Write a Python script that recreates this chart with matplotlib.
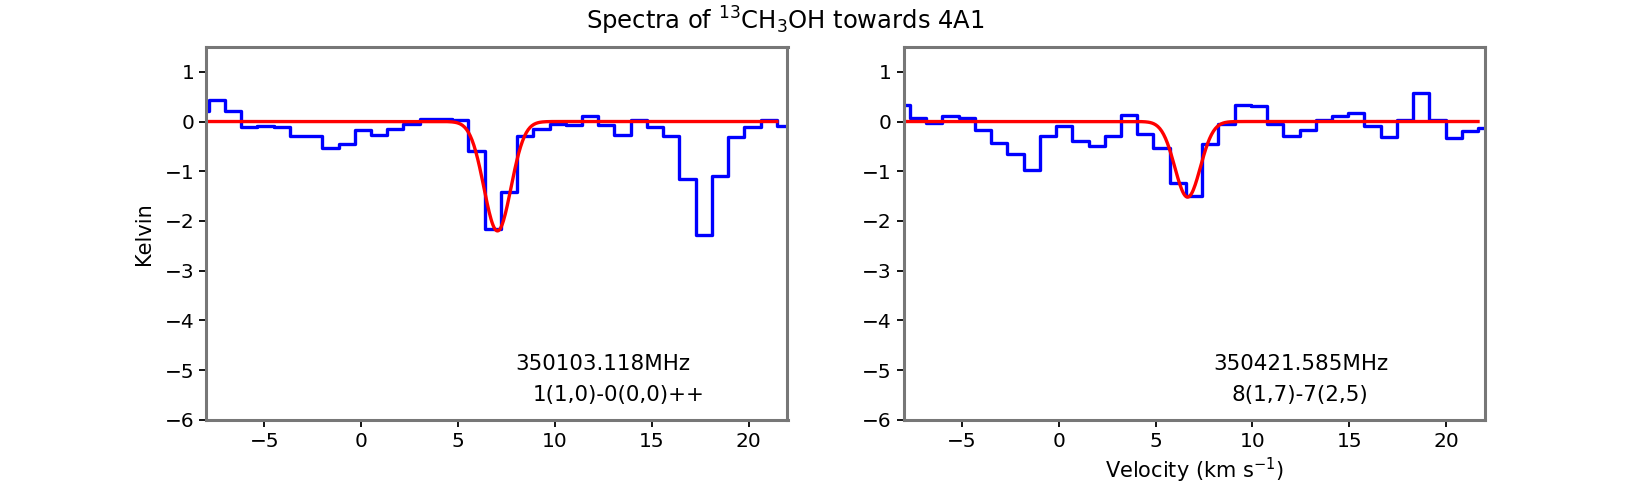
'''
13CH3OH spectra towards 4A1: observed channels with Gaussian fits.
'''
import matplotlib
matplotlib.use("Agg")
import matplotlib.pyplot as plt
import numpy as np

# Channel centre velocities (km/s) and brightness (K), left panel
velocity_left = [-8.29, -7.45, -6.61, -5.78, -4.94, -4.10, -3.26, -2.43, -1.59, -0.75,
                 0.09, 0.92, 1.76, 2.60, 3.44, 4.27, 5.11, 5.95, 6.79, 7.62,
                 8.46, 9.30, 10.14, 10.97, 11.81, 12.65, 13.49, 14.32, 15.16, 16.00,
                 16.84, 17.68, 18.51, 19.35, 20.19, 21.03, 21.86]
kelvin_left = [0.22, 0.43, 0.21, -0.12, -0.09, -0.12, -0.29, -0.29, -0.54, -0.46,
               -0.17, -0.27, -0.15, -0.05, 0.05, 0.05, 0.03, -0.59, -2.17, -1.42,
               -0.29, -0.15, -0.04, -0.06, 0.11, -0.07, -0.27, 0.03, -0.12, -0.29,
               -1.15, -2.29, -1.10, -0.31, -0.12, 0.03, -0.10]

# Channel centre velocities (km/s) and brightness (K), right panel
velocity_right = [-8.09, -7.25, -6.42, -5.58, -4.74, -3.90, -3.07, -2.23, -1.39, -0.55,
                  0.29, 1.12, 1.96, 2.80, 3.64, 4.47, 5.31, 6.15, 6.99, 7.82,
                  8.66, 9.50, 10.34, 11.17, 12.01, 12.85, 13.69, 14.52, 15.36, 16.20,
                  17.04, 17.87, 18.71, 19.55, 20.39, 21.22, 22.06]
kelvin_right = [0.33, 0.08, -0.03, 0.11, 0.07, -0.17, -0.43, -0.65, -0.97, -0.29,
                -0.09, -0.39, -0.49, -0.29, 0.13, -0.25, -0.53, -1.23, -1.49, -0.45,
                -0.05, 0.33, 0.31, -0.05, -0.30, -0.17, 0.03, 0.11, 0.17, -0.10,
                -0.31, 0.03, 0.57, 0.03, -0.33, -0.19, -0.13]

# Gaussian fit parameters: amplitude (K), centre (km/s), FWHM (km/s), velocity span
fit_left = (-2.20, 7.03, 1.64, -8.0, 21.45)
fit_right = (-1.52, 6.65, 1.55, -8.0, 21.64)

# Line labels
freq_labels = ["350103.118MHz", "350421.585MHz"]
transition_labels = ["1(1,0)-0(0,0)++", "8(1,7)-7(2,5)"]
label_x = [(12.45, 13.3), (12.5, 12.44)]

title_text = r"Spectra of $^{13}$CH$_3$OH towards 4A1"


def gaussian_curve(params, n=600):
  amp, centre, fwhm, vmin, vmax = params
  v = np.linspace(vmin, vmax, n)
  sigma = fwhm / 2.3548
  return v, amp * np.exp(-0.5 * ((v - centre) / sigma) ** 2)


def main() -> None:
  plt.rcParams["font.family"] = ["DejaVu Sans"]
  plt.rcParams["font.size"] = 14
  plt.rcParams["mathtext.default"] = "regular"

  fig, axes = plt.subplots(1, 2, figsize=(16.5, 4.94), dpi=100)
  fig.subplots_adjust(left=0.125, right=0.9, bottom=0.15, top=0.905, wspace=0.2)

  panels = [
    (velocity_left, kelvin_left, fit_left),
    (velocity_right, kelvin_right, fit_right),
  ]

  for idx, (ax, (vel, tb, fit)) in enumerate(zip(axes, panels)):
    # Observed spectrum as a histogram-style step line
    ax.step(vel, tb, where="mid", color="#0000ff", linewidth=2.4)

    # Gaussian fit
    v_fit, t_fit = gaussian_curve(fit)
    ax.plot(v_fit, t_fit, color="#ff0000", linewidth=2.4)

    ax.set_xlim(-8, 22)
    ax.set_ylim(-6, 1.5)
    ax.set_xticks([-5, 0, 5, 10, 15, 20])
    ax.set_yticks([-6, -5, -4, -3, -2, -1, 0, 1])
    ax.tick_params(length=5, width=1.3, labelsize=14.5)

    for spine in ax.spines.values():
      spine.set_color("#777777")
      spine.set_linewidth(2.2)

    # Line frequency and transition
    ax.text(label_x[idx][0], -5.0, freq_labels[idx], ha="center", va="baseline", fontsize=15.4)
    ax.text(label_x[idx][1], -5.62, transition_labels[idx], ha="center", va="baseline", fontsize=15.4)

  axes[0].set_ylabel("Kelvin", fontsize=15, labelpad=8)
  axes[1].set_xlabel(r"Velocity (km s$^{-1}$)", fontsize=15)

  fig.text(0.476, 1 - 21 / 494, title_text, ha="center", va="center", fontsize=17.5)

  fig.savefig("out.png", dpi=100)


if __name__ == "__main__":
  main()
